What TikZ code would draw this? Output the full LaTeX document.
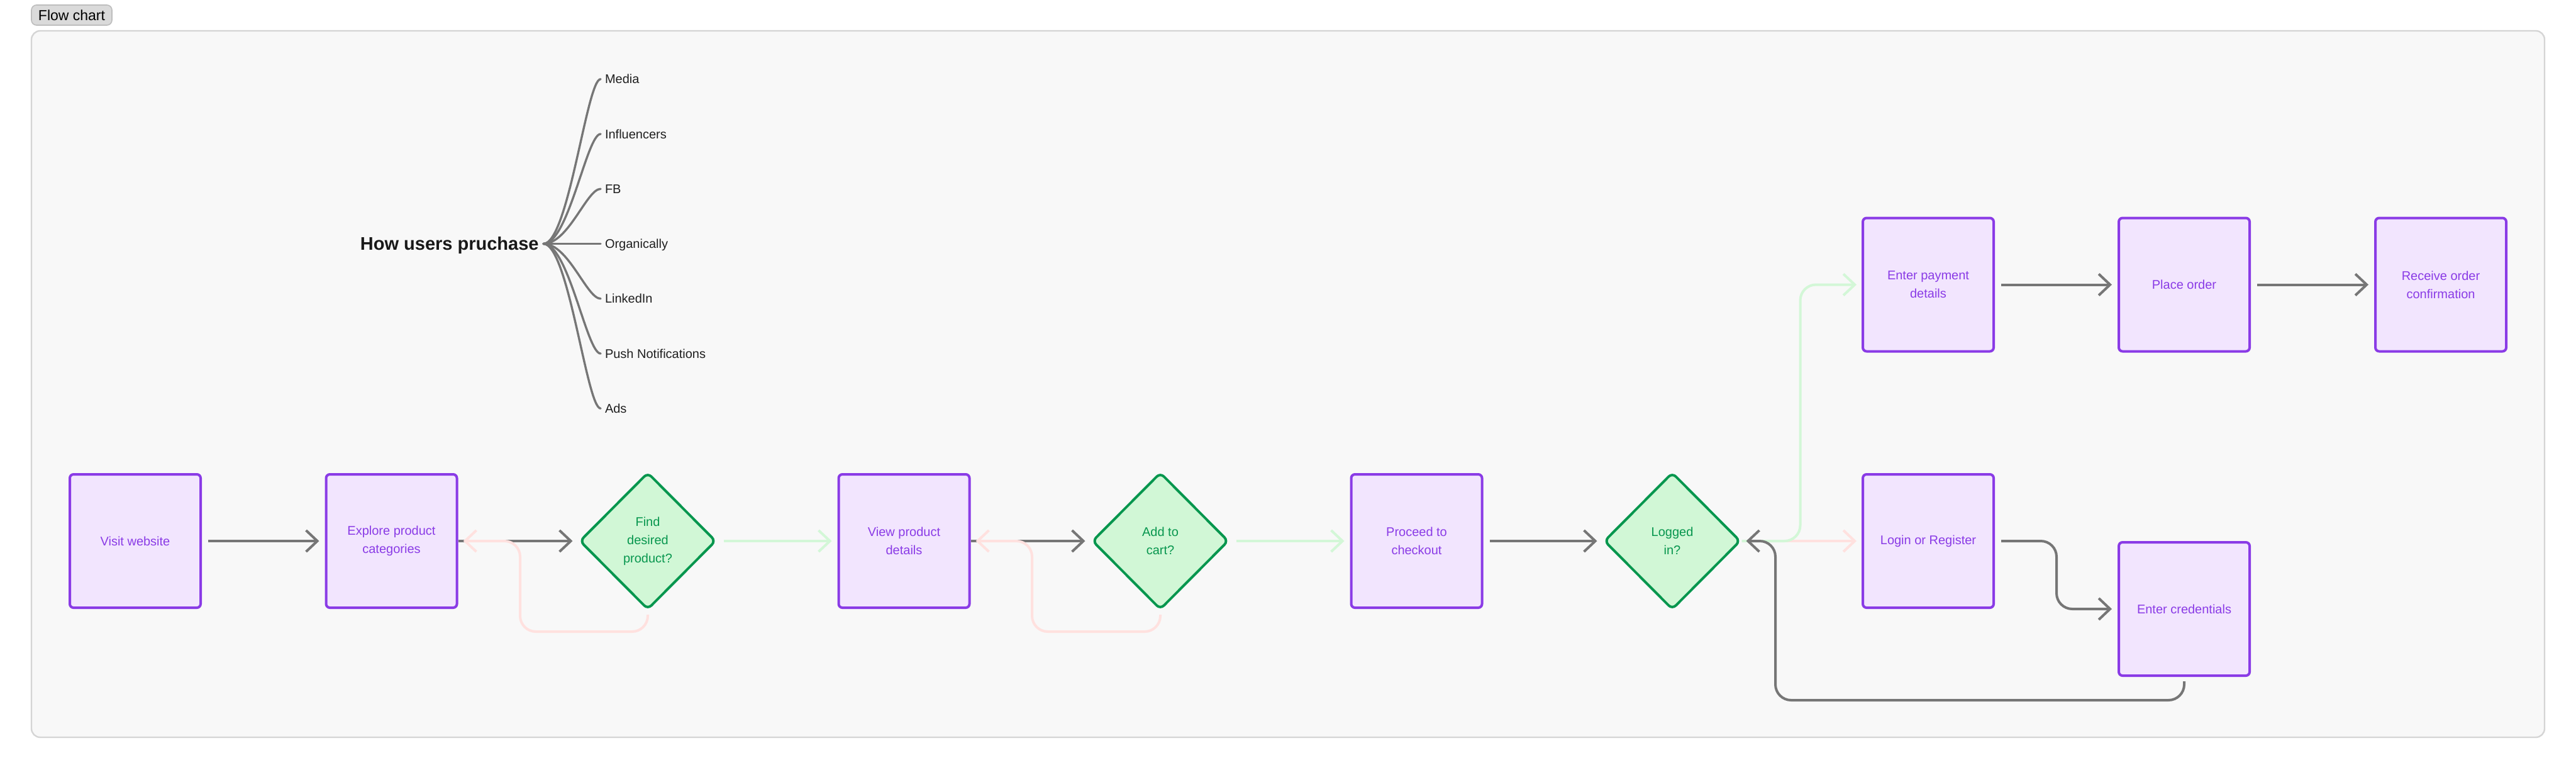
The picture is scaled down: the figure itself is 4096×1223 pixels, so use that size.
\documentclass[tikz,border=0pt]{standalone}
\usepackage{fontspec}
\setmainfont{Liberation Sans}
\usetikzlibrary{shapes.geometric,arrows.meta}

\definecolor{purp}{HTML}{8A3BE6}
\definecolor{purpfill}{HTML}{F2E5FE}
\definecolor{grn}{HTML}{07964E}
\definecolor{grnfill}{HTML}{D1F7D6}
\definecolor{linegray}{HTML}{767676}
\definecolor{nopink}{HTML}{FFE1DF}
\definecolor{yesgreen}{HTML}{D3F7D7}
\definecolor{framefill}{HTML}{F8F8F8}
\definecolor{frameline}{HTML}{D5D5D5}
\definecolor{tabfill}{HTML}{DADADA}
\definecolor{tabline}{HTML}{BDBDBD}

\tikzset{
    procbox/.style={draw=purp, fill=purpfill, text=purp, line width=2pt, rounded corners=3pt,
        minimum width=104pt, minimum height=106pt, inner sep=0pt, align=center,
        font=\fontsize{10}{14.5}\selectfont},
    decision/.style={diamond, draw=grn, fill=grnfill, text=grn, line width=2pt, rounded corners=4pt,
        minimum width=108.5pt, minimum height=109pt, aspect=1, inner sep=0pt, align=center,
        font=\fontsize{10}{14.5}\selectfont},
    flow/.style={draw=linegray, line width=2pt, rounded corners=12.5pt,
        -{Straight Barb[length=9pt,width=17pt]}, shorten <=5pt, shorten >=4.5pt},
    noflow/.style={flow, draw=nopink},
    yesflow/.style={flow, draw=yesgreen},
    branch/.style={draw=linegray, line width=1.7pt, line cap=round},
    leaf/.style={anchor=west, inner xsep=3.5pt, inner ysep=0pt, outer sep=0pt,
        text height=7.2pt, text depth=0pt, text=black!88, font=\fontsize{10}{12}\selectfont}
}

\begin{document}
\begin{tikzpicture}[x=0.5pt, y=-0.5pt]
    \useasboundingbox (0,0) rectangle (4096,1223);
    \fill[white] (0,0) rectangle (4096,1223);

    % frame and tab
    \draw[fill=framefill, draw=frameline, line width=1.2pt, rounded corners=7pt] (50,49) rectangle (4046,1172);
    \node[fill=tabfill, draw=tabline, line width=0.8pt, rounded corners=4pt, minimum width=64pt, minimum height=16pt,
        inner sep=0pt, font=\fontsize{11.5}{13}\selectfont] (tab) at (114,24) {Flow chart};

    % how users purchase
    \coordinate (hub) at (864,387.5);
    \node[anchor=east, inner sep=0pt, text height=10.4pt, text depth=0pt, text=black!90,
        font=\bfseries\fontsize{14.5}{17}\selectfont] (topic) at (857,387.5) {How users pruchase};
    \foreach \src [count=\i] in {Media,Influencers,FB,Organically,LinkedIn,Push Notifications,Ads}{
        \node[leaf] (src\i) at (955,{387.5+87.25*(\i-4)}) {\src};
        \draw[branch] (hub) .. controls +(40,0) and +(-22,0) .. (src\i.west);
    }

    % steps
    \node[procbox] (visit) at (215,860) {Visit website};
    \node[procbox] (explore) at (622.5,860) {Explore product\\categories};
    \node[decision] (find) at (1030,860) {Find\\desired\\product?};
    \node[procbox] (view) at (1437.5,860) {View product\\details};
    \node[decision] (addcart) at (1845,860) {Add to\\cart?};
    \node[procbox] (checkout) at (2252.5,860) {Proceed to\\checkout};
    \node[decision] (logged) at (2659,860) {Logged\\in?};
    \node[procbox] (payment) at (3066,452.5) {Enter payment\\details};
    \node[procbox] (place) at (3473,452.5) {Place order};
    \node[procbox] (confirm) at (3881,452.5) {Receive order\\confirmation};
    \node[procbox] (login) at (3066,860) {Login or Register};
    \node[procbox] (creds) at (3473,968) {Enter credentials};

    % connectors
    \draw[flow] (visit) -- (explore);
    \draw[flow, shorten <=0pt] (explore) -- (find);
    \draw[noflow, shorten <=3pt, shorten >=4pt] (find.south) -- ++(0,33) -| ++(-203,-144) -- (explore.east);
    \draw[yesflow] (find) -- (view);
    \draw[flow, shorten <=0pt] (view) -- (addcart);
    \draw[noflow, shorten <=3pt, shorten >=4pt] (addcart.south) -- ++(0,33) -| ++(-204,-144) -- (view.east);
    \draw[yesflow] (addcart) -- (checkout);
    \draw[flow] (checkout) -- (logged);
    \draw[noflow, shorten <=0pt, shorten >=4pt] (logged.east) -- (login.west);
    \draw[yesflow, shorten <=0pt, shorten >=4pt] (logged.east) -- ++(93,0) |- (payment.west);
    \draw[flow] (payment) -- (place);
    \draw[flow] (place) -- (confirm);
    \draw[flow] (login.east) -- ++(98,0) |- (creds.west);
    \draw[flow, shorten <=3.5pt, shorten >=3.5pt] (creds.south) -- ++(0,37) -| ++(-650,-253) -- (logged.east);
\end{tikzpicture}
\end{document}
